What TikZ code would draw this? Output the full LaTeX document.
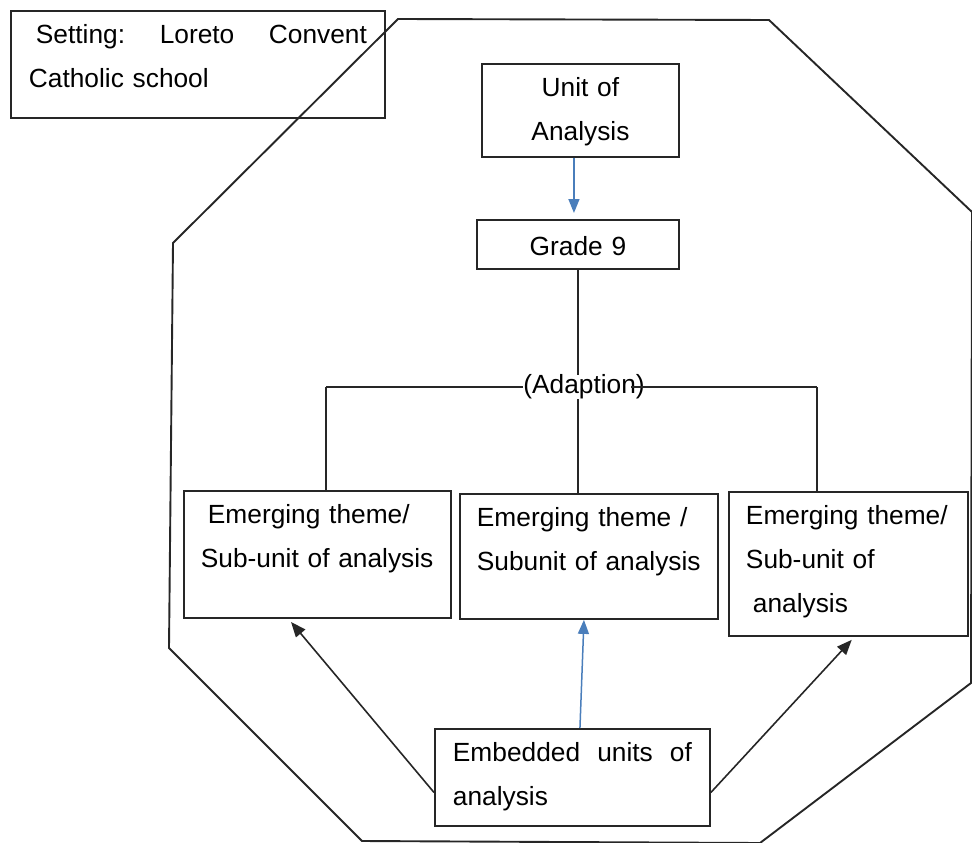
\documentclass[tikz,border=0pt]{standalone}
\usepackage{fontspec}
\setmainfont{Liberation Sans}
\usepackage{tikz}
\usetikzlibrary{arrows.meta}
\definecolor{inkGray}{HTML}{262626}
\definecolor{linkBlue}{HTML}{4A7EBB}

\begin{document}
\begin{tikzpicture}[x=1pt,y=-1pt,
  font=\fontsize{26.3}{44}\selectfont,
  frame/.style={draw=inkGray,line width=1.9pt,anchor=north west,align=left,
    inner ysep=6pt,inner xsep=17pt,text height=27pt},
  tree/.style={draw=inkGray,line width=1.6pt},
  link/.style={draw=inkGray,line width=1.6pt,-{Triangle[length=15pt,width=12pt]}},
  bluelink/.style={draw=linkBlue,line width=1.5pt,-{Triangle[length=14pt,width=11pt]}}]
  \useasboundingbox (0,0) rectangle (972,843);
  % case boundary (octagon)
  \draw[inkGray,line width=1.9pt] (398,19) -- (769,20) -- (972,212) -- (971,683)
    -- (760,843) -- (362,841) -- (169,648) -- (173,243) -- cycle;
  % boxes, placed by their top left corners
  \node[frame,inner xsep=18pt,text width=338pt,text depth=68pt] (setting) at (10,10)
    {\hspace*{7pt}Setting:\hfill Loreto\hfill Convent\\Catholic school};
  \node[frame,align=center,inner xsep=8pt,text width=181pt,text depth=54pt] (unit) at (481,63)
    {Unit of\\Analysis};
  \node[frame,align=center,inner xsep=8pt,text width=186pt,text height=30pt,text depth=7pt] (grade) at (476,219)
    {Grade 9};
  \node[frame,text width=233pt,text depth=88pt] (theme1) at (183,490)
    {\hspace*{7pt}Emerging theme/\\Sub-unit of analysis};
  \node[frame,text width=224pt,text depth=86pt] (theme2) at (459,493)
    {Emerging theme /\\Subunit of analysis};
  \node[frame,text width=205pt,text depth=105pt] (theme3) at (728,491)
    {Emerging theme/\\Sub-unit of\\ \hspace*{7pt}analysis};
  \node[frame,inner xsep=18pt,text width=239pt,text depth=58pt] (embedded) at (434,728)
    {Embedded\hfill units\hfill of\\analysis};
  % split into the three themes
  \node[inner sep=0pt] (adapt) at (584,387) {(Adaption)};
  \coordinate (splitL) at (326,387);
  \coordinate (splitR) at (817,387);
  \draw[tree] (grade.south) -- (grade.south |- adapt.north);
  \draw[tree] (splitL) -- (adapt.west);
  \draw[tree] ([xshift=-14pt]adapt.east) -- (splitR);
  \draw[tree] (grade.south |- adapt.south) -- (grade.south |- theme2.north);
  \draw[tree] (splitL) -- (splitL |- theme1.north);
  \draw[tree] (splitR) -- (splitR |- theme3.north);
  % arrows
  \draw[bluelink,shorten >=6pt] ([xshift=-6.5pt]unit.south) -- ([xshift=-4pt]grade.north);
  \draw[bluelink] ([xshift=7.5pt]embedded.north) -- ([xshift=-5pt]theme2.south);
  \draw[link,shorten >=4pt] ([yshift=-15pt]embedded.west) -- ([xshift=-29pt]theme1.south);
  \draw[link,shorten >=4pt] ([yshift=-15pt]embedded.east) -- ([xshift=6pt]theme3.south);
\end{tikzpicture}
\end{document}
